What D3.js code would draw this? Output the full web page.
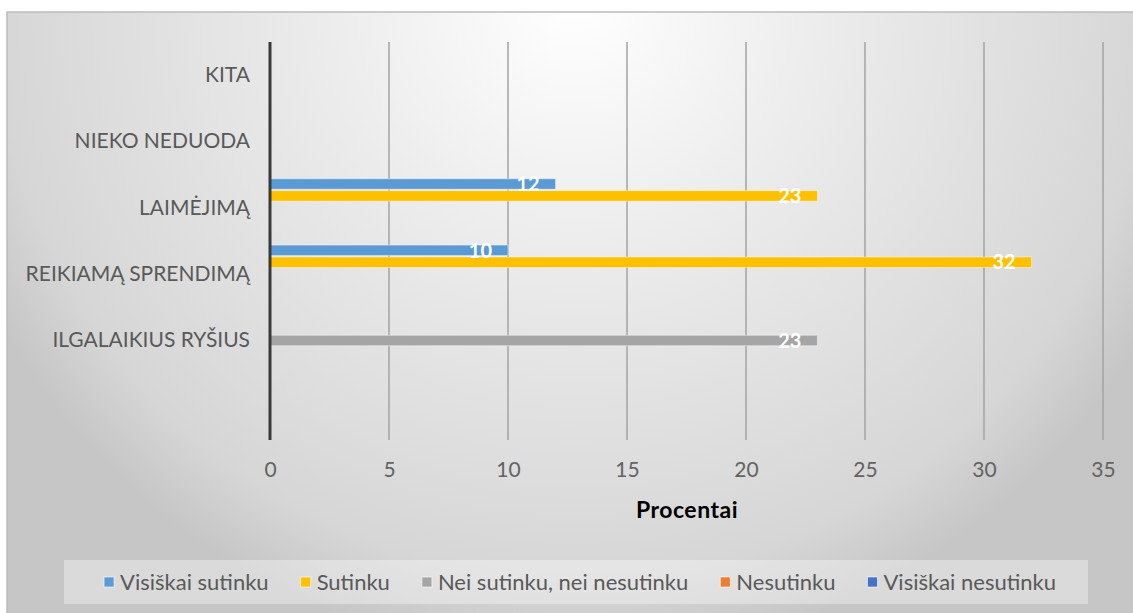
<!DOCTYPE html>
<html>
<head>
<meta charset="utf-8">
<script src="https://cdn.jsdelivr.net/npm/d3@7"></script>
<style>
  html, body { margin: 0; padding: 0; background: #ffffff; }
  svg { display: block; }
  text { font-family: Lato, "Open Sans", sans-serif; }
</style>
</head>
<body>
<svg id="chart" width="1133" height="613"></svg>
<script>
// Categories, top to bottom (last band is intentionally empty)
const categories = ["KITA", "NIEKO NEDUODA", "LAIMĖJIMĄ", "REIKIAMĄ SPRENDIMĄ", "ILGALAIKIUS RYŠIUS", ""];

// Answer series and their values per category (null = no answer)
const seriesNames = ["Visiškai sutinku", "Sutinku", "Nei sutinku, nei nesutinku", "Nesutinku", "Visiškai nesutinku"];
const visiskaiSutinku   = [null, null, 12, 10, null, null];
const sutinku           = [null, null, 23, 32, null, null];
const neiSutinkuNei     = [null, null, null, null, 23, null];
const nesutinku         = [null, null, null, null, null, null];
const visiskaiNesutinku = [null, null, null, null, null, null];
const seriesValues = [visiskaiSutinku, sutinku, neiSutinkuNei, nesutinku, visiskaiNesutinku];
const seriesColors = ["#5B9BD5", "#FFC000", "#A5A5A5", "#ED7D31", "#4472C4"];

const xTicks = [0, 5, 10, 15, 20, 25, 30, 35];
const xTitle = "Procentai";

const svg = d3.select("#chart");
const W = 1133, H = 613;

// Chart area background: soft radial gradient, brightest near the top
const defs = svg.append("defs");
const grad = defs.append("radialGradient")
  .attr("id", "bg").attr("gradientUnits", "userSpaceOnUse")
  .attr("cx", 575).attr("cy", 0).attr("r", 660);
[[0, "#ffffff"], [0.38, "#ececec"], [0.88, "#d6d6d6"], [1, "#c6c6c6"]]
  .forEach(([o, c]) => grad.append("stop").attr("offset", o).attr("stop-color", c));

svg.append("rect")
  .attr("x", 7).attr("y", 12).attr("width", W).attr("height", H)
  .attr("fill", "url(#bg)").attr("stroke", "#bcbcbc").attr("stroke-width", 1.5);

// Plot geometry
const plot = { left: 270, right: 1103, top: 42, bottom: 440 };

const x = d3.scaleLinear().domain([0, 35]).range([plot.left, plot.right]);
const y = d3.scaleBand().domain(categories).range([plot.top, plot.bottom]).padding(0);
const ySeries = d3.scaleBand().domain(seriesNames).range([0, y.bandwidth()])
  .paddingInner(0.12).paddingOuter(0.34);

// Vertical gridlines
svg.append("g").selectAll("line").data(xTicks.filter(t => t > 0)).join("line")
  .attr("x1", d => x(d)).attr("x2", d => x(d))
  .attr("y1", plot.top).attr("y2", plot.bottom)
  .attr("stroke", "#a3a3a3").attr("stroke-width", 1.5);

// X axis tick labels and title
const xAxis = d3.axisBottom(x).tickValues(xTicks).tickSize(0).tickPadding(0);
const gx = svg.append("g").attr("transform", `translate(0,${plot.bottom + 22})`).call(xAxis);
gx.select(".domain").remove();
gx.selectAll("text")
  .attr("dy", "0.3em").attr("y", 9)
  .attr("fill", "#636363").style("font-size", "21px")
  .style("font-family", "Lato, 'Open Sans', sans-serif");

svg.append("text")
  .attr("x", 687).attr("y", 510)
  .attr("text-anchor", "middle").attr("dy", "0.35em")
  .attr("fill", "#000").style("font-size", "23px").style("font-weight", "bold")
  .style("letter-spacing", "0.5px")
  .text(xTitle);

// Category labels
const yAxis = d3.axisLeft(y).tickSize(0).tickPadding(20);
const gy = svg.append("g").attr("transform", `translate(${plot.left},0)`).call(yAxis);
gy.select(".domain").remove();
gy.selectAll("text")
  .attr("fill", "#595959").style("font-size", "21px")
  .style("font-family", "Lato, 'Open Sans', sans-serif");

// Bars
const barData = [];
seriesNames.forEach((s, si) => {
  categories.forEach((c, ci) => {
    const v = seriesValues[si][ci];
    if (v != null) barData.push({ series: s, cat: c, value: v, color: seriesColors[si] });
  });
});

const bars = svg.append("g");
bars.selectAll("rect").data(barData).join("rect")
  .attr("x", x(0))
  .attr("y", d => y(d.cat) + ySeries(d.series))
  .attr("width", d => x(d.value) - x(0))
  .attr("height", ySeries.bandwidth())
  .attr("fill", d => d.color)
  .attr("stroke", "rgba(255,255,255,0.45)").attr("stroke-width", 1);

// Value labels, inside the end of each bar
bars.selectAll("text").data(barData).join("text")
  .attr("x", d => x(d.value) - 16)
  .attr("y", d => y(d.cat) + ySeries(d.series) + ySeries.bandwidth() / 2)
  .attr("text-anchor", "end").attr("dy", "0.36em")
  .attr("fill", "#ffffff").style("font-size", "20px").style("font-weight", "bold")
  .text(d => d.value);

// Value axis line at zero
svg.append("line")
  .attr("x1", x(0)).attr("x2", x(0)).attr("y1", plot.top).attr("y2", plot.bottom)
  .attr("stroke", "#3a3a3a").attr("stroke-width", 3);

// Legend
const legendBox = { x: 64, y: 560, w: 1024, h: 44 };
svg.append("rect")
  .attr("x", legendBox.x).attr("y", legendBox.y)
  .attr("width", legendBox.w).attr("height", legendBox.h)
  .attr("fill", "rgba(255,255,255,0.35)");

const legend = svg.append("g");
const items = legend.selectAll("g").data(seriesNames).join("g");
items.append("rect")
  .attr("width", 10).attr("height", 10).attr("y", -5)
  .attr("fill", (d, i) => seriesColors[i])
  .attr("stroke", "rgba(255,255,255,0.6)").attr("stroke-width", 1);
items.append("text")
  .attr("x", 16).attr("dy", "0.35em")
  .attr("fill", "#595959").style("font-size", "22px")
  .text(d => d);

let cursor = 0;
const offsets = [];
items.each(function () {
  const wText = d3.select(this).select("text").node().getComputedTextLength();
  offsets.push(cursor);
  cursor += 16 + wText + 32;
});
const total = cursor - 32;
const startX = 580 - total / 2;
items.attr("transform", (d, i) => `translate(${startX + offsets[i]},${legendBox.y + legendBox.h / 2})`);
</script>
</body>
</html>
